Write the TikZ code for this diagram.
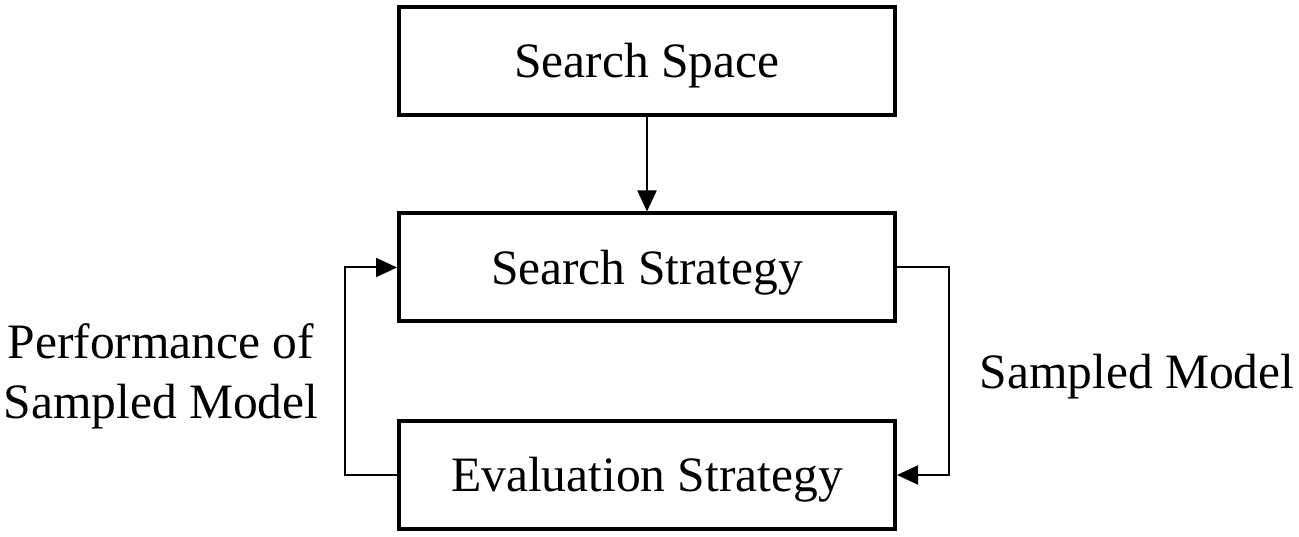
\documentclass[tikz,border=0pt]{standalone}
\usepackage{fontspec}
\setmainfont{Liberation Serif}
\usetikzlibrary{arrows.meta}
\newcommand{\lowertext}[1]{\raisebox{-5pt}[\height][\depth]{#1}}
\begin{document}
\begin{tikzpicture}[x=1pt,y=1pt,
  box/.style={draw=black, line width=4pt, minimum width=496pt, minimum height=108pt, inner sep=0pt, font=\fontsize{49.5}{60}\selectfont},
  conn/.style={draw=black, line width=2pt, -{Triangle[length=21pt,width=19pt]}},
  lab/.style={font=\fontsize{49.5}{60}\selectfont, align=center, inner sep=0pt}]
\useasboundingbox (0,0) rectangle (1299,-537);
\node[box] (space) at (647,-61) {\lowertext{Search Space}};
\node[box] (strat) at (647,-267.5) {\lowertext{Search Strategy}};
\node[box] (eval) at (647,-475) {\lowertext{Evaluation Strategy}};
\draw[conn] (space) -- (strat);
\draw[conn] (strat.east) -- ++(52,0) |- (eval.east);
\draw[conn] (eval.west) -- ++(-52,0) |- (strat.west);
\node[lab] (perf) at (161,-376) {Performance of\\Sampled Model};
\node[lab] (samp) at (1137,-377) {Sampled Model};
\end{tikzpicture}
\end{document}
